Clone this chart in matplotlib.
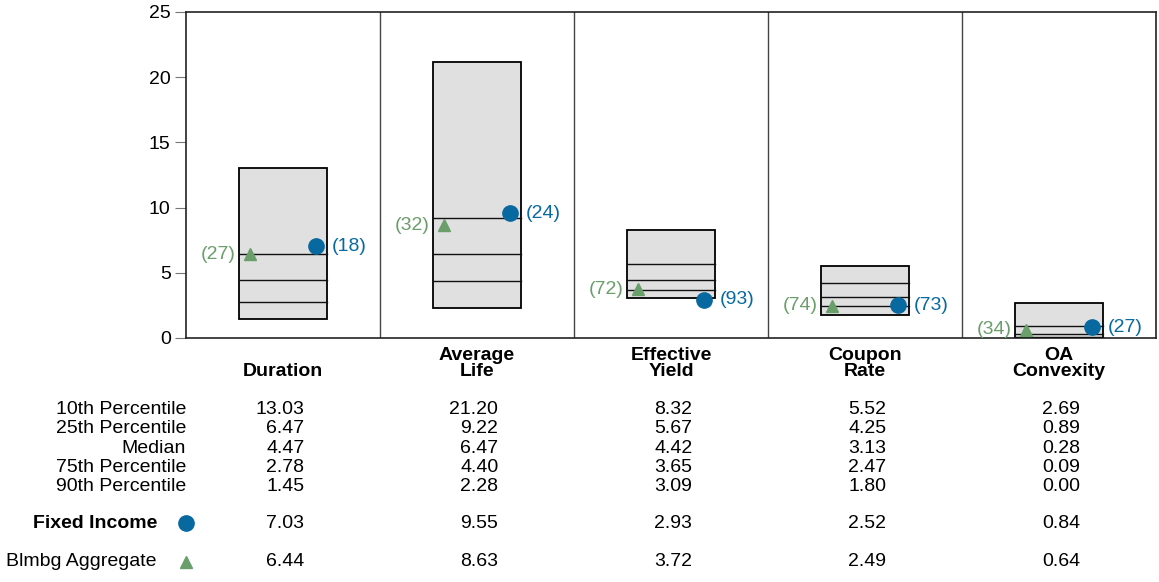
import matplotlib.pyplot as plt
from matplotlib.patches import Rectangle

plt.rcParams['font.family'] = ['Liberation Sans', 'DejaVu Sans']

# Data
categories = ['Duration', 'Average\nLife', 'Effective\nYield', 'Coupon\nRate', 'OA\nConvexity']
p10 = [13.03, 21.20, 8.32, 5.52, 2.69]
p25 = [6.47, 9.22, 5.67, 4.25, 0.89]
median = [4.47, 6.47, 4.42, 3.13, 0.28]
p75 = [2.78, 4.40, 3.65, 2.47, 0.09]
p90 = [1.45, 2.28, 3.09, 1.80, 0.00]
fixed_income = [7.03, 9.55, 2.93, 2.52, 0.84]
fixed_rank = [18, 24, 93, 73, 27]
aggregate = [6.44, 8.63, 3.72, 2.49, 0.64]
agg_rank = [27, 32, 72, 74, 34]
row_labels = ['10th Percentile', '25th Percentile', 'Median', '75th Percentile', '90th Percentile']

BLUE = '#0868a0'
GREEN = '#6a9e6a'
FS = 14

W, H = 1159, 582
fig = plt.figure(figsize=(W / 100, H / 100), dpi=100)
ax = fig.add_axes([186 / W, 1 - 338 / H, (1156 - 186) / W, (338 - 12) / H])
ax.set_xlim(0, 5)
ax.set_ylim(0, 25)
ax.set_yticks([0, 5, 10, 15, 20, 25])
ax.set_xticks([])
ax.tick_params(axis='y', labelsize=FS, length=8, color='#777777', pad=3)
for s in ax.spines.values():
    s.set_color('#222222')
    s.set_linewidth(1.2)

half = 0.227
off = 0.17
for i in range(5):
    c = i + 0.5
    if i > 0:
        ax.axvline(i, color='#444444', lw=1.0)
    ax.add_patch(Rectangle((c - half, p90[i]), 2 * half, p10[i] - p90[i],
                           facecolor='#e0e0e0', edgecolor='black', lw=1.3, zorder=2))
    for v in (p25[i], median[i], p75[i]):
        ax.plot([c - half, c + half], [v, v], color='#111111', lw=1.0, zorder=3)
    ax.plot(c + off, fixed_income[i], 'o', color=BLUE, ms=11, zorder=4, clip_on=False)
    ax.plot(c - off, aggregate[i], '^', color=GREEN, ms=9, zorder=4, clip_on=False)
    ax.text(c + off + 0.08, fixed_income[i], f'({fixed_rank[i]})', color=BLUE,
            fontsize=FS, va='center', ha='left')
    ax.text(c - off - 0.075, aggregate[i], f'({agg_rank[i]})', color=GREEN,
            fontsize=FS, va='center', ha='right')

# table under the chart
tr = ax.get_xaxis_transform()


def yf(px):
    return (338 - px) / 326


for i in range(5):
    c = i + 0.5
    ax.text(c, yf(380), categories[i], transform=tr, ha='center', va='bottom',
            fontsize=FS, fontweight='bold', linespacing=0.95)
    rows = [p10[i], p25[i], median[i], p75[i], p90[i]]
    for r, v in enumerate(rows):
        ax.text(c + 0.11, yf(409.5 + r * 19.3), f'{v:.2f}', transform=tr,
                ha='right', va='center', fontsize=FS)
    ax.text(c + 0.11, yf(524), f'{fixed_income[i]:.2f}', transform=tr,
            ha='right', va='center', fontsize=FS)
    ax.text(c + 0.11, yf(562), f'{aggregate[i]:.2f}', transform=tr,
            ha='right', va='center', fontsize=FS)

for r, lab in enumerate(row_labels):
    ax.text(0.0, yf(409.5 + r * 19.3), lab, transform=tr, ha='right', va='center', fontsize=FS)

ax.text(-0.15, yf(524), 'Fixed Income', transform=tr, ha='right', va='center',
        fontsize=FS, fontweight='bold')
ax.text(-0.15, yf(562), 'Blmbg Aggregate', transform=tr, ha='right', va='center', fontsize=FS)
ax.plot([0.0], [yf(523)], 'o', color=BLUE, ms=11, transform=tr, clip_on=False)
ax.plot([0.0], [yf(562)], '^', color=GREEN, ms=9, transform=tr, clip_on=False)

fig.savefig('out.png', dpi=100)
